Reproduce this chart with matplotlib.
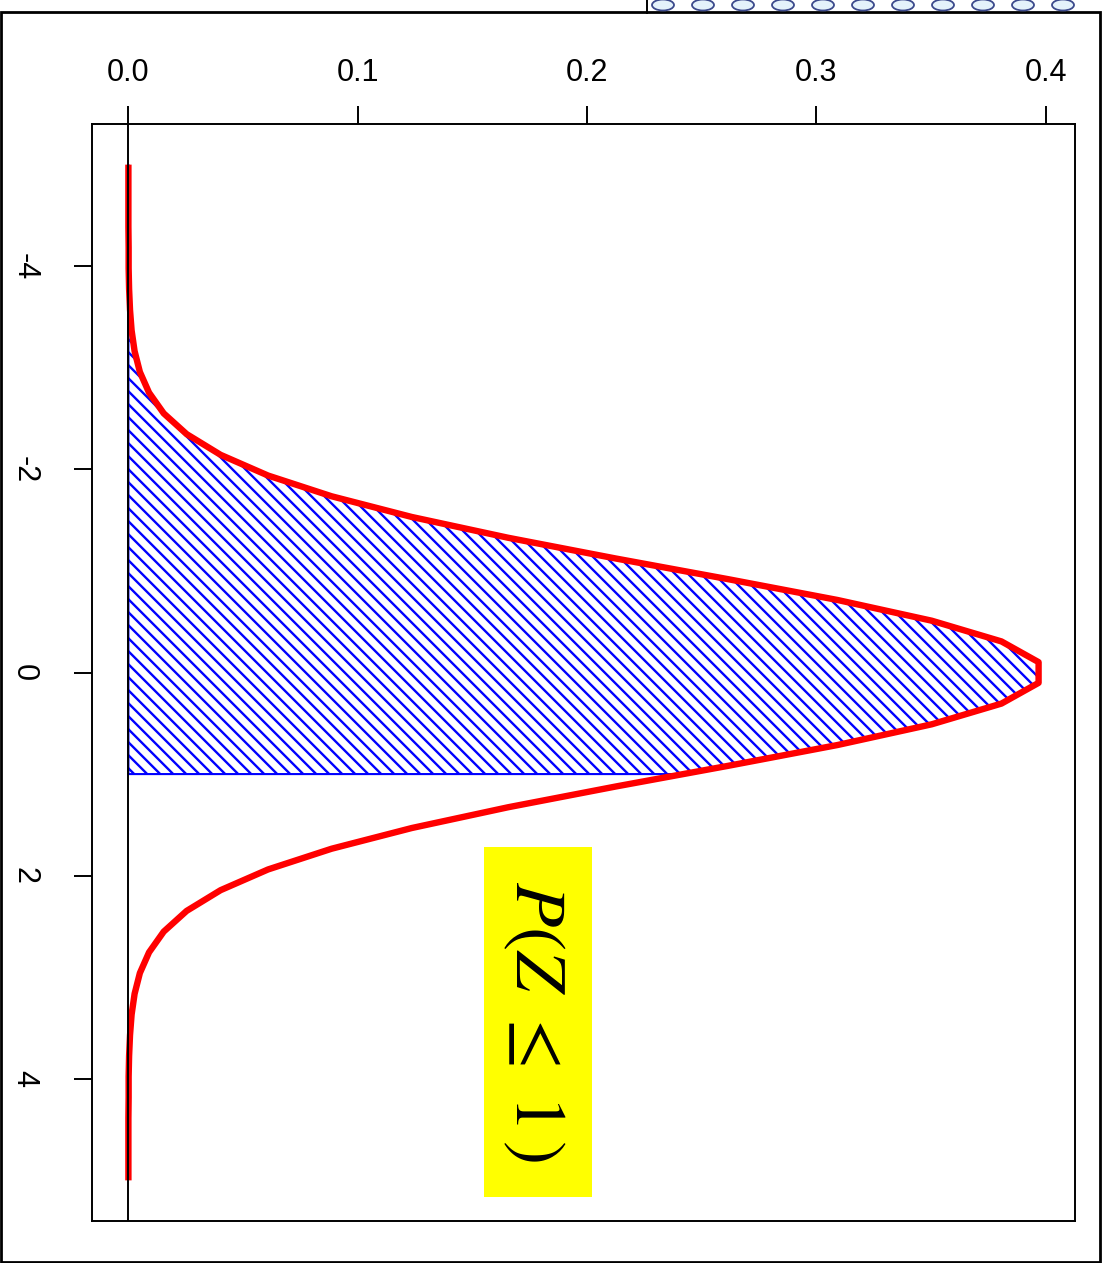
import matplotlib
matplotlib.use("Agg")
import matplotlib.pyplot as plt
from matplotlib.patches import Polygon, Rectangle, Ellipse
from matplotlib.collections import LineCollection
from matplotlib.lines import Line2D
import numpy as np

# standard normal density sampled on 50 points from -5 to 5
z_vals = [-5.000, -4.796, -4.592, -4.388, -4.184, -3.980, -3.776, -3.571, -3.367, -3.163,
          -2.959, -2.755, -2.551, -2.347, -2.143, -1.939, -1.735, -1.531, -1.327, -1.122,
          -0.918, -0.714, -0.510, -0.306, -0.102, 0.102, 0.306, 0.510, 0.714, 0.918,
          1.122, 1.327, 1.531, 1.735, 1.939, 2.143, 2.347, 2.551, 2.755, 2.959,
          3.163, 3.367, 3.571, 3.776, 3.980, 4.184, 4.388, 4.592, 4.796, 5.000]
dens_vals = [0.0000, 0.0000, 0.0000, 0.0000, 0.0001, 0.0001, 0.0003, 0.0007, 0.0014, 0.0027,
             0.0050, 0.0090, 0.0154, 0.0254, 0.0402, 0.0609, 0.0886, 0.1236, 0.1655, 0.2126,
             0.2617, 0.3092, 0.3503, 0.3807, 0.3969, 0.3969, 0.3807, 0.3503, 0.3092, 0.2617,
             0.2126, 0.1655, 0.1236, 0.0886, 0.0609, 0.0402, 0.0254, 0.0154, 0.0090, 0.0050,
             0.0027, 0.0014, 0.0007, 0.0003, 0.0001, 0.0001, 0.0000, 0.0000, 0.0000, 0.0000]

# shaded region P(Z <= 1)
z_cut = 1.0
dens_cut = 0.2420

z_ticks = [-4, -2, 0, 2, 4]
z_ticklabels = ['-4', '-2', '0', '2', '4']
d_ticks = [0.0, 0.1, 0.2, 0.3, 0.4]
d_ticklabels = ['0.0', '0.1', '0.2', '0.3', '0.4']
label_text = r'$P(Z\ \leq\ 1\,)$'

W, H = 1103, 1263
fig = plt.figure(figsize=(W / 100, H / 100), dpi=100)
ax = fig.add_axes([92 / W, 42 / H, (1075 - 92) / W, (1221 - 124) / H])

d_max = max(dens_vals)
ax.set_xlim(-0.04 * d_max, 1.04 * d_max)
ax.set_ylim(5.4, -5.4)

# polygon under the curve up to z_cut
shade_z = [z for z in z_vals if z <= z_cut]
shade_d = [d for z, d in zip(z_vals, dens_vals) if z <= z_cut]
poly_xy = [(0, shade_z[0])] + list(zip(shade_d, shade_z)) + [(dens_cut, z_cut), (0, z_cut)]
poly = Polygon(poly_xy, closed=True, facecolor='none', edgecolor='blue', lw=1.5, zorder=3)
ax.add_patch(poly)

# diagonal hatching, spacing fixed in pixels
fig.canvas.draw()
to_disp = ax.transData
pts = to_disp.transform(poly_xy)
x0, y0 = pts.min(axis=0)
x1, y1 = pts.max(axis=0)
segs = []
step = 13.0
c = x0 + y0 - (x1 - x0) - 20
while c < x1 + y1 + 20:
    a = np.array([[x0 - 50, c - (x0 - 50)], [x1 + 50, c - (x1 + 50)]])
    segs.append(to_disp.inverted().transform(a))
    c += step
hatch = LineCollection(segs, colors='blue', linewidths=1.7, zorder=2)
hatch.set_clip_path(poly)
ax.add_collection(hatch)

ax.plot(dens_vals, z_vals, color='red', lw=4.6, zorder=4,
        solid_joinstyle='round', solid_capstyle='butt')
ax.axvline(0, color='black', lw=1.4, zorder=5)

# label box
ax.add_patch(Rectangle((0.1549, 1.714), 0.2023 - 0.1549, 5.163 - 1.714,
                       facecolor='yellow', edgecolor='none', zorder=1))
ax.text(0.1776, 3.44, label_text, rotation=-90, ha='center', va='center',
        fontsize=52, math_fontfamily='stix', zorder=6)

# axes styling
for sp in ax.spines.values():
    sp.set_linewidth(1.4)
ax.xaxis.tick_top()
ax.set_xticks(d_ticks)
ax.set_xticklabels(d_ticklabels, family='Liberation Sans', fontsize=22)
ax.set_yticks(z_ticks)
ax.set_yticklabels(z_ticklabels, family='Liberation Sans', fontsize=22,
                   rotation=-90, va='center')
ax.tick_params(axis='x', length=13, width=1.4, pad=13)
ax.tick_params(axis='y', length=13, width=1.4, pad=25)

# page frame and bits of the neighbouring page
fig.patches.append(Rectangle((1 / W, 1 / H), 1099 / W, 1250 / H, transform=fig.transFigure,
                             fill=False, edgecolor='black', lw=2))
fig.lines.append(Line2D([647 / W, 647 / W], [1 - 13 / H, 1], transform=fig.transFigure,
                        color='black', lw=1.4))
for k in range(11):
    cx = 663 + 40 * k
    fig.patches.append(Ellipse((cx / W, 1 - 5 / H), 22 / W, 11 / H, transform=fig.transFigure,
                               facecolor='#e4f2fb', edgecolor='#3c4a8c', lw=1.3))

fig.savefig('out.png', dpi=100)
